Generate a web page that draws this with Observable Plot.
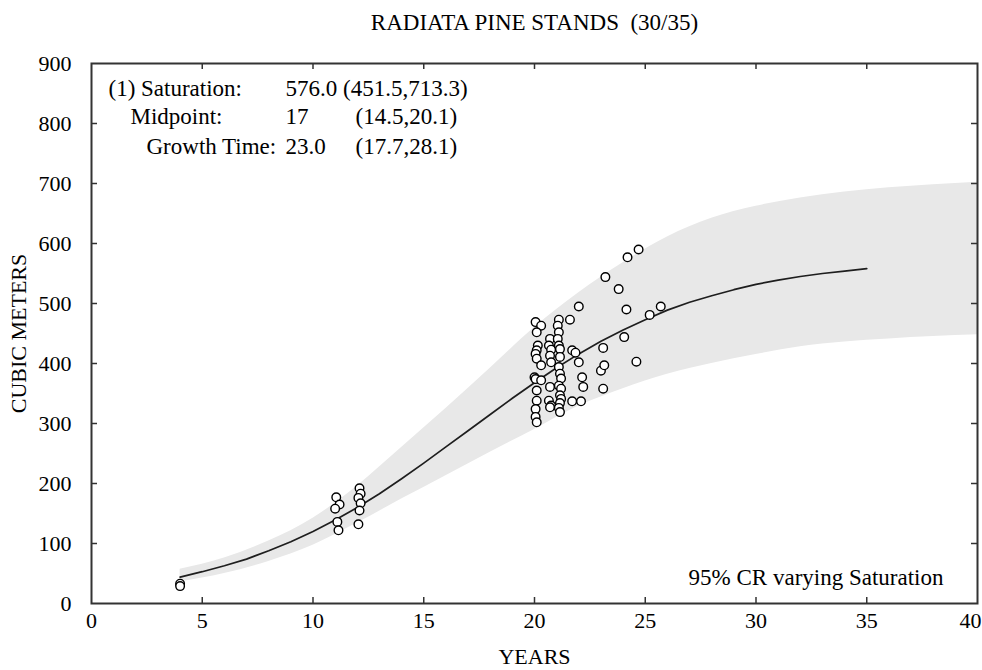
<!DOCTYPE html>
<html>
<head>
<meta charset="utf-8">
<script src="https://cdn.jsdelivr.net/npm/d3@7"></script>
<script src="https://cdn.jsdelivr.net/npm/@observablehq/plot@0.6"></script>
<style>
  html, body { margin: 0; padding: 0; background: #fff; }
</style>
</head>
<body>
<div id="chart"></div>
<script>
// ---- data ----
const chartTitle = "RADIATA PINE STANDS  (30/35)";
const xTitle = "YEARS";
const yTitle = "CUBIC METERS";
const noteText = "95% CR varying Saturation";

const paramLabels = ["(1) Saturation:", "Midpoint:", "Growth Time:"];
const paramValues = ["576.0 (451.5,713.3)", "17", "23.0"];
const paramRanges = ["", "(14.5,20.1)", "(17.7,28.1)"];

const xTicks = [0, 5, 10, 15, 20, 25, 30, 35, 40];
const yTicks = [0, 100, 200, 300, 400, 500, 600, 700, 800, 900];

// fitted curve
const fitYear   = [4,5,6,7,8,9,10,11,12,13,14,15,16,17,18,19,20,21,22,23,24,25,26,27,28,29,30,31,32,33,34,35];
const fitVolume = [44,53,63,74,88,103,120,139,160,183,208,234,261,288,315,342,368,393,416,437,456,473,489,502,513,523,532,539,545,550,554,558];

// 95% confidence region
const bandYear = [4,6,8,10,12,14,16,18,20,22,24,26,28,30,32,34,36,38,40];
const bandLow  = [36,50,70,97,134,174,213,252,290,329,358,382,400,415,428,436,441,445,448];
const bandHigh = [57,76,104,142,196,260,325,392,460,518,568,611,642,662,676,686,693,698,702];

// observations
const obsYear = [
  4.0, 4.0,
  11.05, 11.2, 11.0, 11.1, 11.15,
  12.1, 12.15, 12.05, 12.15, 12.1, 12.05,
  20.05, 20.3, 20.1, 20.15, 20.1, 20.05, 20.1, 20.3, 20.0, 20.05, 20.3, 20.1, 20.1, 20.05, 20.05, 20.1,
  20.7, 20.65, 20.75, 20.7, 20.75, 20.7, 20.65, 20.75, 20.7,
  21.1, 21.05, 21.1, 21.05, 21.1, 21.15, 21.15, 21.1, 21.15, 21.2, 21.1, 21.2, 21.15, 21.2, 21.15, 21.1, 21.15,
  21.6, 22.0, 21.7, 21.85, 22.0, 22.15, 22.2, 21.7, 22.1,
  23.2, 23.8, 24.15, 24.2, 24.7, 23.1, 24.05, 25.2, 25.7, 24.6, 23.0, 23.15, 23.1
];
const obsVolume = [
  33, 29,
  177, 165, 158, 136, 122,
  192, 183, 176, 167, 155, 132,
  469, 463, 452, 430, 422, 416, 408, 397, 377, 374, 372, 355, 338, 324, 311, 302,
  441, 430, 423, 413, 402, 361, 338, 330, 327,
  473, 463, 452, 441, 430, 424, 411, 394, 383, 375, 363, 358, 347, 341, 334, 326, 319,
  473, 495, 422, 418, 402, 377, 361, 337, 337,
  544, 524, 490, 577, 590, 426, 444, 481, 495, 403, 388, 397, 358
];

// ---- tables for the library ----
const fit = fitYear.map((t, i) => ({t, v: fitVolume[i]}));
const band = bandYear.map((t, i) => ({t, lo: bandLow[i], hi: bandHigh[i]}));
const obs = obsYear.map((t, i) => ({t, v: obsVolume[i]}));

const W = 982, H = 670;
const mT = 63, mL = 91, mR = 5, mB = 67;
const fH = H - mT - mB, fW = W - mL - mR;
const tickLen = 6;
const axisColor = "#333";
const FONT = 22;
const BIG = 23;

// annotation layout (offsets from the frame's top-left corner)
const rowDy = [25, 53, 83];
const labelDx = [17, 39, 55];
const valueDx = 194;
const rangeDx = 264;

const annotationMarks = [];
paramLabels.forEach((s, i) => {
  annotationMarks.push(Plot.text([s], {frameAnchor: "top-left", textAnchor: "start", lineAnchor: "middle", dx: labelDx[i], dy: rowDy[i], fontSize: BIG}));
  annotationMarks.push(Plot.text([paramValues[i]], {frameAnchor: "top-left", textAnchor: "start", lineAnchor: "middle", dx: valueDx, dy: rowDy[i], fontSize: BIG}));
  if (paramRanges[i]) annotationMarks.push(Plot.text([paramRanges[i]], {frameAnchor: "top-left", textAnchor: "start", lineAnchor: "middle", dx: rangeDx, dy: rowDy[i], fontSize: BIG}));
});

const chart = Plot.plot({
  width: W,
  height: H,
  marginTop: mT,
  marginLeft: mL,
  marginRight: mR,
  marginBottom: mB,
  style: {fontFamily: "'Liberation Serif', 'Times New Roman', serif", fontSize: FONT + "px", background: "#fff", color: "#000", overflow: "visible"},
  x: {domain: [0, 40]},
  y: {domain: [0, 900]},
  marks: [
    Plot.areaY(band, {x: "t", y1: "lo", y2: "hi", fill: "#e8e8e8", curve: "monotone-x"}),
    Plot.line(fit, {x: "t", y: "v", stroke: "#1e1e1e", strokeWidth: 1.7}),
    Plot.dot(obs, {x: "t", y: "v", r: 4.3, stroke: "#000", strokeWidth: 1.4, fill: "#fff"}),
    // inward ticks on all four sides
    Plot.tickX(xTicks.slice(1, -1), {x: d => d, insetTop: fH - tickLen, stroke: axisColor, strokeWidth: 1.5}),
    Plot.tickX(xTicks.slice(1, -1), {x: d => d, insetBottom: fH - tickLen, stroke: axisColor, strokeWidth: 1.5}),
    Plot.tickY(yTicks.slice(1, -1), {y: d => d, insetRight: fW - tickLen, stroke: axisColor, strokeWidth: 1.5}),
    Plot.tickY(yTicks.slice(1, -1), {y: d => d, insetLeft: fW - tickLen, stroke: axisColor, strokeWidth: 1.5}),
    Plot.frame({stroke: axisColor, strokeWidth: 2}),
    Plot.axisX({ticks: xTicks.slice(0, -1), tickSize: 0, tickPadding: 9, label: null, fontSize: FONT}),
    Plot.axisX({ticks: xTicks.slice(-1), tickSize: 0, tickPadding: 9, label: null, fontSize: FONT, dx: -7}),
    Plot.axisY({ticks: yTicks, tickSize: 0, tickPadding: 20, label: null, fontSize: FONT}),
    // titles
    Plot.text([chartTitle], {frameAnchor: "top", textAnchor: "middle", dy: -41, lineAnchor: "middle", fontSize: BIG}),
    Plot.text([xTitle], {frameAnchor: "bottom", textAnchor: "middle", dy: 53, lineAnchor: "middle", fontSize: FONT}),
    Plot.text([yTitle], {frameAnchor: "left", textAnchor: "middle", dx: -73, rotate: -90, lineAnchor: "middle", fontSize: FONT}),
    // parameter annotation
    ...annotationMarks,
    Plot.text([noteText], {frameAnchor: "bottom-right", textAnchor: "end", lineAnchor: "middle", dx: -34, dy: -26, fontSize: BIG})
  ]
});
document.getElementById("chart").appendChild(chart);
</script>
</body>
</html>
